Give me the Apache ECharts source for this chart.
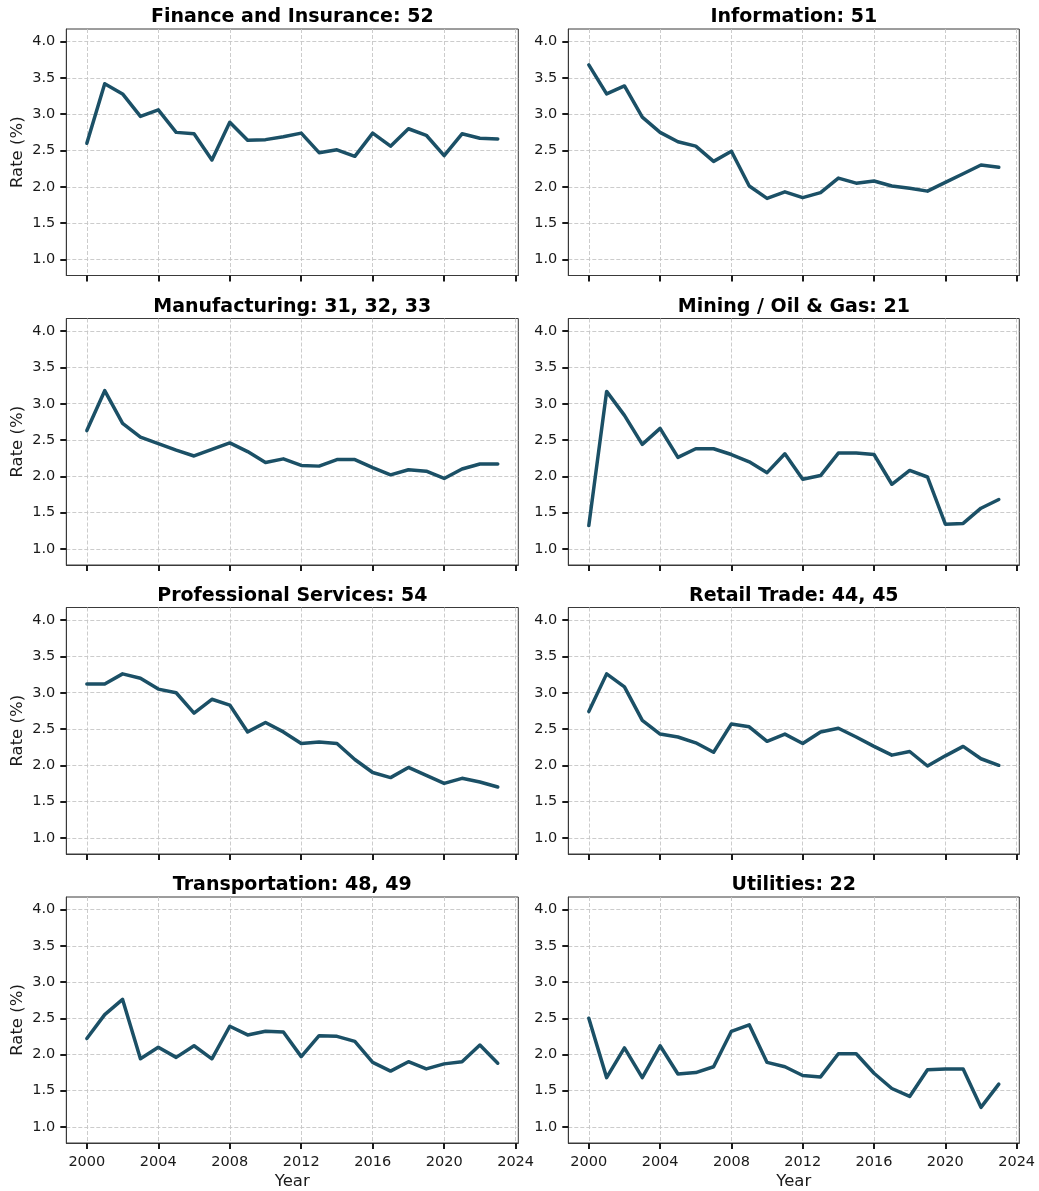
<!DOCTYPE html>
<html>
<head>
<meta charset="utf-8">
<title>Rate by Industry</title>
<script src="https://cdn.jsdelivr.net/npm/echarts@6/dist/echarts.min.js"></script>
<style>
  html, body { margin: 0; padding: 0; background: #ffffff; }
  #chart { width: 1039px; height: 1191px; }
</style>
</head>
<body>
<div id="chart"></div>
<script>
// Years on the x axis
const years = [2000, 2001, 2002, 2003, 2004, 2005, 2006, 2007, 2008, 2009, 2010, 2011,
               2012, 2013, 2014, 2015, 2016, 2017, 2018, 2019, 2020, 2021, 2022, 2023];

// Panel titles (industry name and NAICS codes)
const panelTitles = [
  'Finance and Insurance: 52',
  'Information: 51',
  'Manufacturing: 31, 32, 33',
  'Mining / Oil & Gas: 21',
  'Professional Services: 54',
  'Retail Trade: 44, 45',
  'Transportation: 48, 49',
  'Utilities: 22'
];

// Rate (%) per year for each industry
const finance = [2.60, 3.42, 3.28, 2.97, 3.06, 2.75, 2.73, 2.37, 2.89, 2.64, 2.65, 2.69,
                 2.74, 2.47, 2.51, 2.42, 2.74, 2.56, 2.80, 2.71, 2.43, 2.73, 2.67, 2.66];
const information = [3.68, 3.28, 3.39, 2.96, 2.75, 2.62, 2.56, 2.35, 2.49, 2.01, 1.84, 1.93,
                     1.85, 1.92, 2.12, 2.05, 2.08, 2.01, 1.98, 1.94, 2.06, 2.18, 2.30, 2.27];
const manufacturing = [2.63, 3.18, 2.73, 2.54, 2.45, 2.36, 2.28, 2.37, 2.46, 2.34, 2.19, 2.24,
                       2.15, 2.14, 2.23, 2.23, 2.12, 2.02, 2.09, 2.07, 1.97, 2.10, 2.17, 2.17];
const mining = [1.32, 3.17, 2.84, 2.44, 2.66, 2.26, 2.38, 2.38, 2.30, 2.20, 2.05, 2.31,
                1.96, 2.01, 2.32, 2.32, 2.30, 1.89, 2.08, 1.99, 1.34, 1.35, 1.56, 1.68];
const professional = [3.12, 3.12, 3.26, 3.20, 3.05, 3.00, 2.72, 2.91, 2.83, 2.46, 2.59, 2.46,
                      2.30, 2.32, 2.30, 2.08, 1.90, 1.83, 1.97, 1.86, 1.75, 1.82, 1.77, 1.70];
const retail = [2.74, 3.26, 3.08, 2.62, 2.43, 2.39, 2.31, 2.18, 2.57, 2.53, 2.33, 2.43,
                2.30, 2.46, 2.51, 2.39, 2.26, 2.14, 2.19, 1.99, 2.13, 2.26, 2.09, 2.00];
const transportation = [2.22, 2.55, 2.76, 1.94, 2.10, 1.96, 2.12, 1.94, 2.39, 2.27, 2.32, 2.31,
                        1.97, 2.26, 2.25, 2.18, 1.89, 1.77, 1.90, 1.80, 1.87, 1.90, 2.13, 1.88];
const utilities = [2.50, 1.68, 2.09, 1.68, 2.12, 1.73, 1.75, 1.83, 2.32, 2.41, 1.89, 1.83,
                   1.71, 1.69, 2.01, 2.01, 1.74, 1.53, 1.42, 1.79, 1.80, 1.80, 1.27, 1.59];

const panelValues = [finance, information, manufacturing, mining,
                     professional, retail, transportation, utilities];

// Tick positions
const xTicks = [2000, 2004, 2008, 2012, 2016, 2020, 2024];
const yTicks = [1.0, 1.5, 2.0, 2.5, 3.0, 3.5, 4.0];

// Layout of the 4 x 2 panel grid
const colLeft = [66.3, 568.3];
const colWidth = [452, 451];
const rowTop = [29, 318.5, 607.5, 897];
const panelHeight = 246.5;

const FONT = 'DejaVu Sans';
const LINE_COLOR = '#1b5066';
const TEXT_COLOR = '#1a1a1a';

const grids = [], xAxes = [], yAxes = [], series = [], titles = [];

panelValues.forEach((vals, i) => {
  const row = Math.floor(i / 2);
  const col = i % 2;
  const isBottom = row === 3;
  const isLeft = col === 0;

  grids.push({
    left: colLeft[col],
    top: rowTop[row],
    width: colWidth[col],
    height: panelHeight,
    show: true,
    borderColor: '#3a3a3a',
    borderWidth: 1,
    backgroundColor: 'transparent'
  });

  titles.push({
    text: panelTitles[i],
    left: colLeft[col] + colWidth[col] / 2,
    top: rowTop[row] - 21,
    textAlign: 'center',
    padding: 0,
    textStyle: { fontFamily: FONT, fontSize: 19, fontWeight: 'bold', color: '#000000' }
  });

  xAxes.push({
    type: 'value',
    gridIndex: i,
    min: 1998.85,
    max: 2024.15,
    name: isBottom ? 'Year' : '',
    nameLocation: 'middle',
    nameGap: 30,
    nameTextStyle: { fontFamily: FONT, fontSize: 16.5, color: TEXT_COLOR },
    axisLine: { show: true, onZero: false, lineStyle: { color: '#3a3a3a', width: 1 } },
    axisTick: {
      show: true, inside: false, length: 6,
      customValues: xTicks,
      lineStyle: { color: '#1a1a1a', width: 2 }
    },
    axisLabel: {
      show: isBottom,
      customValues: xTicks,
      margin: 12,
      fontFamily: FONT, fontSize: 14.5, color: TEXT_COLOR,
      formatter: v => String(Math.round(v))
    },
    splitLine: {
      show: true,
      lineStyle: { color: '#c6c6c6', width: 0.9, type: [4, 2] }
    }
  });

  yAxes.push({
    type: 'value',
    gridIndex: i,
    min: 0.777,
    max: 4.175,
    name: isLeft ? 'Rate (%)' : '',
    nameLocation: 'middle',
    nameGap: 40,
    nameTextStyle: { fontFamily: FONT, fontSize: 16.5, color: TEXT_COLOR },
    axisLine: { show: true, onZero: false, lineStyle: { color: '#3a3a3a', width: 1 } },
    axisTick: {
      show: true, inside: false, length: 6,
      customValues: yTicks,
      lineStyle: { color: '#1a1a1a', width: 2 }
    },
    axisLabel: {
      show: true,
      customValues: yTicks,
      margin: 11,
      fontFamily: FONT, fontSize: 14.5, color: TEXT_COLOR,
      formatter: v => Number(v).toFixed(1)
    },
    splitLine: {
      show: true,
      lineStyle: { color: '#c6c6c6', width: 0.9, type: [4, 2] }
    }
  });

  series.push({
    type: 'line',
    xAxisIndex: i,
    yAxisIndex: i,
    data: years.map((y, k) => [y, vals[k]]),
    showSymbol: false,
    symbol: 'none',
    lineStyle: { color: LINE_COLOR, width: 3.5, join: 'round', cap: 'round' },
    emphasis: { disabled: true },
    z: 3
  });
});

const chart = echarts.init(document.getElementById('chart'), null, { renderer: 'canvas' });
chart.setOption({
  animation: false,
  backgroundColor: '#ffffff',
  title: titles,
  grid: grids,
  xAxis: xAxes,
  yAxis: yAxes,
  series: series
});
</script>
</body>
</html>
